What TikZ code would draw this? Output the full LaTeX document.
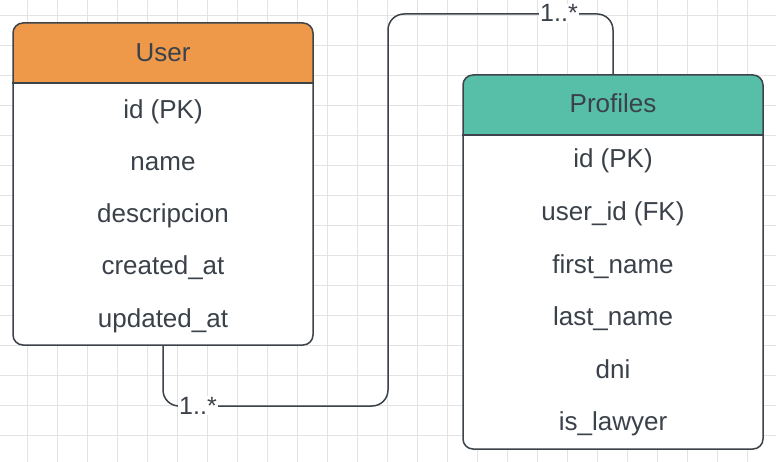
\documentclass[tikz,border=0pt]{standalone}
\usepackage{fontspec}
\setmainfont{Liberation Sans}
\definecolor{ink}{HTML}{3B4149}
\definecolor{edge}{HTML}{3D434B}
\definecolor{gridc}{HTML}{E3E3E3}
\definecolor{hdrorange}{HTML}{EE994A}
\definecolor{hdrteal}{HTML}{57BEA8}
\begin{document}
\begin{tikzpicture}[x=1pt,y=-1pt,
  txt/.style={anchor=base,inner sep=0pt,text=ink,font=\fontsize{26}{30}\selectfont},
  tbox/.style={draw=edge,line width=1.5pt,rounded corners=10pt,inner sep=0pt},
  conn/.style={draw=edge,line width=1.5pt,rounded corners=16pt},
  mult/.style={anchor=base,fill=white,inner sep=1pt,text=ink,font=\fontsize{25}{30}\selectfont}]
\useasboundingbox (0,0) rectangle (776,462);
\fill[white] (0,0) rectangle (776,462);
% grid
\foreach \gx in {27,57,...,777} \draw[gridc,line width=0.8pt] (\gx,0) -- (\gx,462);
\foreach \gy in {15,45,...,460} \draw[gridc,line width=0.8pt] (0,\gy) -- (776,\gy);
% connector
\coordinate (c1) at (388,406);
\coordinate (c2) at (388,14);
\coordinate (ua) at (163,345);
\coordinate (pa) at (613,75);
\draw[conn] (ua) |- (c1) -- (c2) -| (pa);
\node[mult] (m1) at (198,414) {1..*};
\node[mult] (m2) at (559,22) {1..*};
% User table
\fill[white,rounded corners=10pt] (13,23) rectangle (313,345);
\begin{scope}
  \clip[rounded corners=10pt] (13,23) rectangle (313,345);
  \fill[hdrorange] (13,23) rectangle (313,83);
\end{scope}
\node[tbox,minimum width=300pt,minimum height=322pt] (user) at (163,184) {};
\draw[edge,line width=1.5pt] (user.west |- 0,83) coordinate (us1) -- (user.east |- 0,83) coordinate (us2);
\node[txt] (uh) at (163,62) {User};
\node[txt] (u1) at (163,119) {id (PK)};
\node[txt] (u2) at (163,171) {name};
\node[txt] (u3) at (163,223) {descripcion};
\node[txt] (u4) at (163,275) {created\_at};
\node[txt] (u5) at (163,327) {updated\_at};
% Profiles table
\fill[white,rounded corners=10pt] (463,75) rectangle (763,449);
\begin{scope}
  \clip[rounded corners=10pt] (463,75) rectangle (763,449);
  \fill[hdrteal] (463,75) rectangle (763,135);
\end{scope}
\node[tbox,minimum width=300pt,minimum height=374pt] (prof) at (613,262) {};
\draw[edge,line width=1.5pt] (prof.west |- 0,135) coordinate (ps1) -- (prof.east |- 0,135) coordinate (ps2);
\node[txt] (ph) at (613,113) {Profiles};
\node[txt] (p1) at (613,168) {id (PK)};
\node[txt] (p2) at (613,220.5) {user\_id (FK)};
\node[txt] (p3) at (613,273) {first\_name};
\node[txt] (p4) at (613,325.5) {last\_name};
\node[txt] (p5) at (613,378) {dni};
\node[txt] (p6) at (613,430) {is\_lawyer};
\end{tikzpicture}
\end{document}
